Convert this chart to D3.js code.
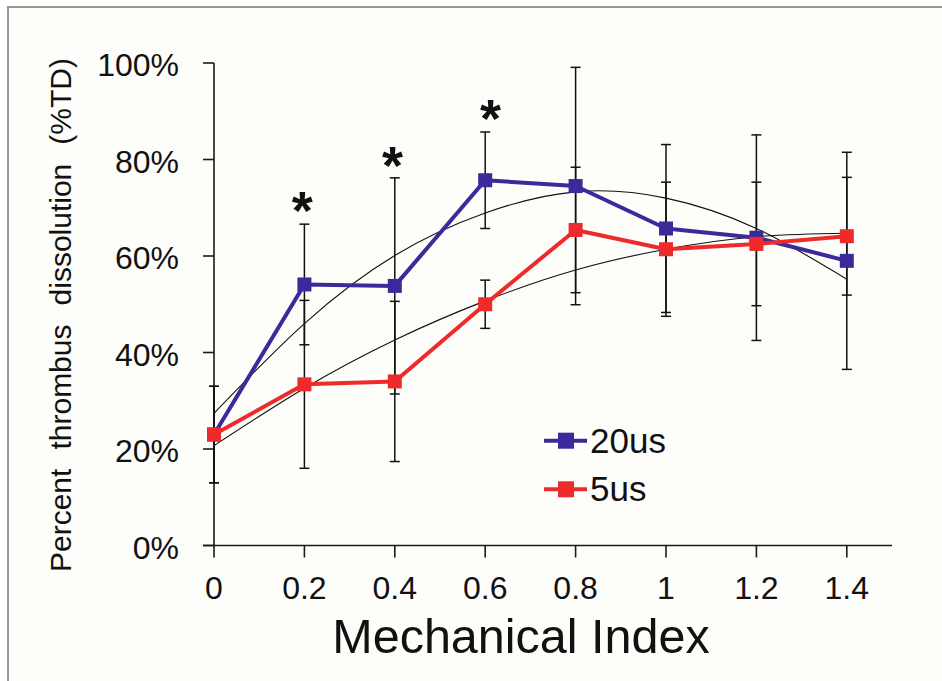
<!DOCTYPE html>
<html>
<head>
<meta charset="utf-8">
<script src="https://cdn.jsdelivr.net/npm/d3@7"></script>
<style>
  html, body { margin: 0; padding: 0; background: #ffffff; }
  svg { display: block; }
  text { font-family: "Liberation Sans", Arial, sans-serif; fill: #111; }
</style>
</head>
<body>
<svg id="chart" width="942" height="681"></svg>
<script>
// ---------- data ----------
const mechIndex   = [0, 0.2, 0.4, 0.6, 0.8, 1.0, 1.2, 1.4];
const td20us      = [23.0, 54.1, 53.8, 75.7, 74.5, 65.7, 63.8, 59.0];
const err20us     = [10.0, 12.5, 22.4, 10.0, 24.6, 17.4, 21.3, 22.5];
const td5us       = [23.0, 33.4, 34.0, 50.0, 65.4, 61.4, 62.5, 64.1];
const err5us      = [10.0, 17.4, 16.6, 5.0, 13.0, 13.9, 12.8, 12.2];
const trend20us   = [27.4, 46.0, 60.1, 68.9, 73.3, 72.0, 65.7, 55.2];
const trend5us    = [20.7, 32.6, 42.6, 50.7, 57.1, 61.4, 64.0, 64.7];
const starX       = [0.195, 0.395, 0.612];
const starY       = [72.3, 81.6, 91.3];
const xTickValues = [0, 0.2, 0.4, 0.6, 0.8, 1.0, 1.2, 1.4];
const xTickLabels = ["0", "0.2", "0.4", "0.6", "0.8", "1", "1.2", "1.4"];
const yTickValues = [0, 20, 40, 60, 80, 100];
const yTickLabels = ["0%", "20%", "40%", "60%", "80%", "100%"];
const seriesNames = ["20us", "5us"];
const xTitle = "Mechanical Index";
const yTitle = "Percent thrombus dissolution (%TD)";

// ---------- layout ----------
const svg = d3.select("#chart");
const C_BLUE = "#3a2a9c", C_RED = "#ee2a2a";

// frame
svg.append("rect").attr("x", 8).attr("y", 7).attr("width", 1000).attr("height", 700)
  .attr("fill", "#fdfdfa").attr("stroke", "#9a9696").attr("stroke-width", 2);

const x = d3.scaleLinear().domain([0, 1.5]).range([214, 892]);
const y = d3.scaleLinear().domain([0, 100]).range([545.5, 63]);
const tickLen = 11;

// axes
const ax = svg.append("g").attr("stroke", "#1a1a1a").attr("stroke-width", 1.6);
ax.append("line").attr("x1", x(0)).attr("x2", x(0)).attr("y1", y(0)).attr("y2", y(100));
ax.append("line").attr("x1", x(0) - tickLen).attr("x2", x(1.5)).attr("y1", y(0)).attr("y2", y(0));
ax.selectAll(".yt").data(yTickValues).join("line")
  .attr("x1", x(0) - tickLen).attr("x2", x(0)).attr("y1", d => y(d)).attr("y2", d => y(d));
ax.selectAll(".xt").data(xTickValues).join("line")
  .attr("x1", d => x(d)).attr("x2", d => x(d)).attr("y1", y(0)).attr("y2", y(0) + 12);

svg.selectAll(".ytl").data(yTickValues).join("text")
  .attr("x", 179).attr("y", d => y(d) + 13).attr("text-anchor", "end")
  .attr("font-size", 32).text((d, i) => yTickLabels[i]);
svg.selectAll(".xtl").data(xTickValues).join("text")
  .attr("x", d => x(d)).attr("y", 599).attr("text-anchor", "middle")
  .attr("font-size", 32).text((d, i) => xTickLabels[i]);

svg.append("text").attr("x", 521).attr("y", 653).attr("text-anchor", "middle")
  .attr("font-size", 48.5).text(xTitle);

const yt = svg.append("text").attr("transform", "translate(71,315) rotate(-90)")
  .attr("text-anchor", "middle").attr("font-size", 30).text(yTitle);
const len = yt.node().getComputedTextLength();
const target = 514;
if (len < target) yt.style("word-spacing", ((target - len) / 3) + "px");

// error bars
function errorBars(vals, errs) {
  const g = svg.append("g").attr("stroke", "#111").attr("stroke-width", 1.5);
  mechIndex.forEach((m, i) => {
    const cx = x(m), lo = y(vals[i] - errs[i]), hi = y(vals[i] + errs[i]);
    g.append("line").attr("x1", cx).attr("x2", cx).attr("y1", lo).attr("y2", hi);
    g.append("line").attr("x1", cx - 5).attr("x2", cx + 5).attr("y1", lo).attr("y2", lo);
    g.append("line").attr("x1", cx - 5).attr("x2", cx + 5).attr("y1", hi).attr("y2", hi);
  });
}
errorBars(td20us, err20us);
errorBars(td5us, err5us);

// trend curves
const trendLine = d3.line().x((d, i) => x(mechIndex[i])).y(d => y(d)).curve(d3.curveNatural);
[trend20us, trend5us].forEach(t => {
  svg.append("path").attr("d", trendLine(t)).attr("fill", "none")
    .attr("stroke", "#111").attr("stroke-width", 1.1);
});

// series
const line = d3.line().x((d, i) => x(mechIndex[i])).y(d => y(d));
const mk = 14;
[[td20us, C_BLUE], [td5us, C_RED]].forEach(([vals, col]) => {
  svg.append("path").attr("d", line(vals)).attr("fill", "none")
    .attr("stroke", col).attr("stroke-width", 4).attr("stroke-linejoin", "round");
  svg.selectAll(null).data(vals).join("rect")
    .attr("x", (d, i) => x(mechIndex[i]) - mk / 2).attr("y", d => y(d) - mk / 2)
    .attr("width", mk).attr("height", mk).attr("fill", col);
});

// significance stars
const starFs = 54;
svg.selectAll(".star").data(starX).join("text")
  .attr("x", d => x(d)).attr("y", (d, i) => y(starY[i]) + 0.6 * starFs)
  .attr("text-anchor", "middle").attr("font-size", starFs).attr("font-weight", "bold")
  .text("*");

// legend
const legY = [440.7, 489.3];
[C_BLUE, C_RED].forEach((col, i) => {
  svg.append("line").attr("x1", 544).attr("x2", 587).attr("y1", legY[i]).attr("y2", legY[i])
    .attr("stroke", col).attr("stroke-width", 4);
  svg.append("rect").attr("x", 566 - 8).attr("y", legY[i] - 8).attr("width", 16).attr("height", 16)
    .attr("fill", col);
  svg.append("text").attr("x", 590).attr("y", legY[i] + 12).attr("font-size", 35)
    .text(seriesNames[i]);
});
</script>
</body>
</html>
